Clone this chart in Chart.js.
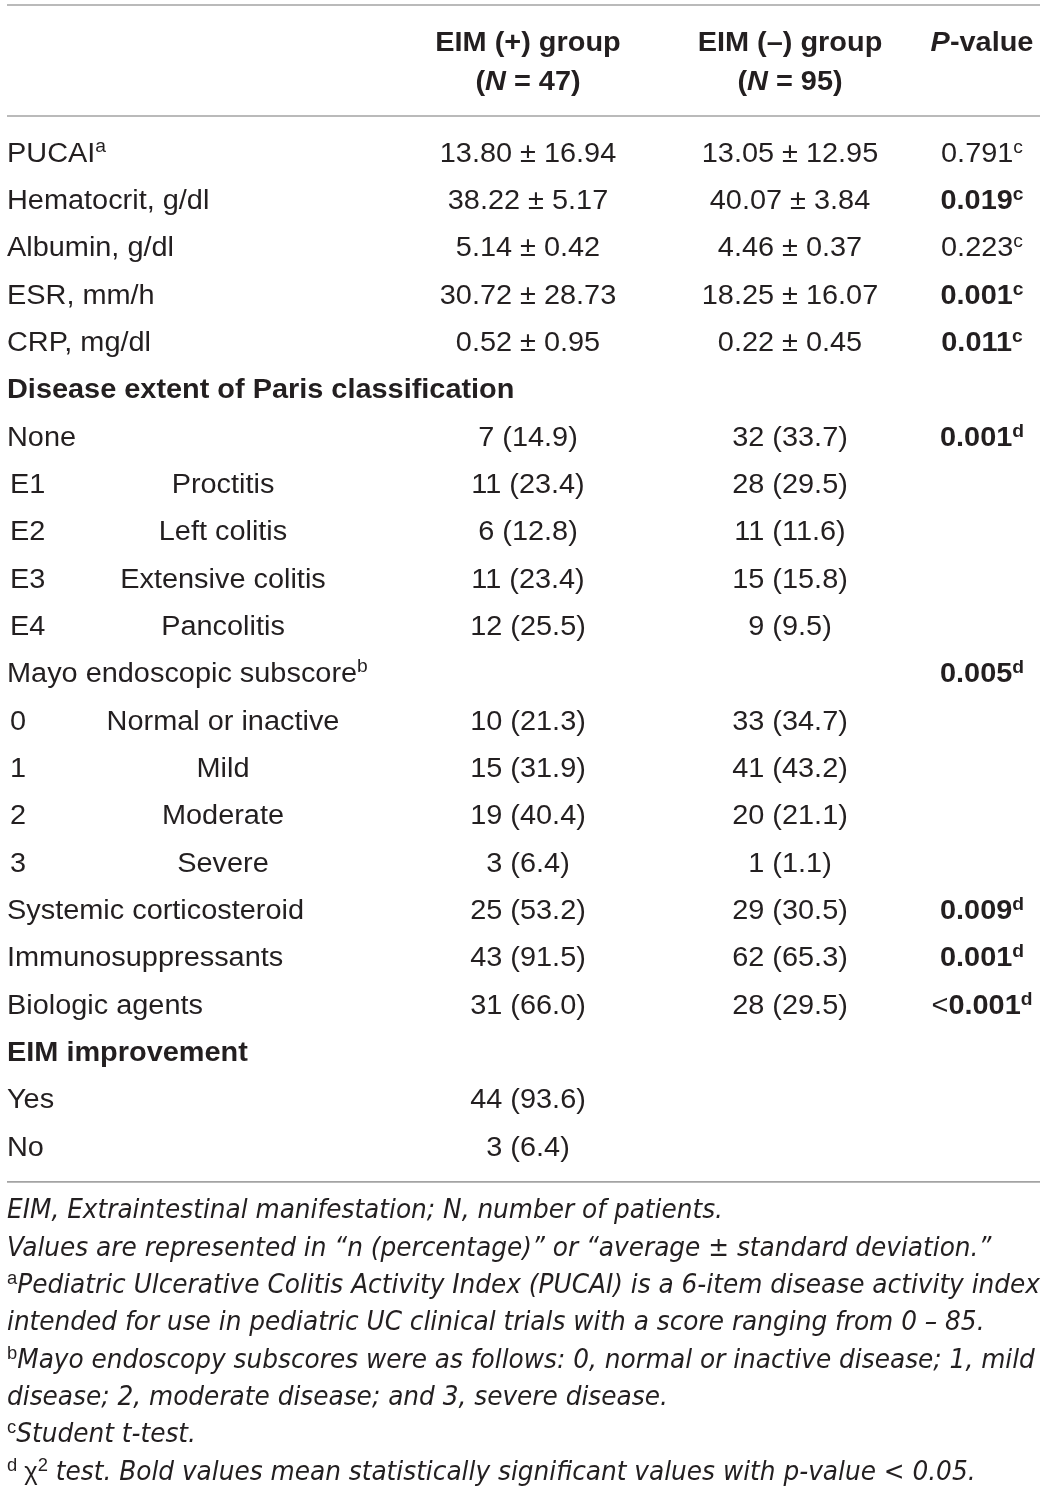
<!DOCTYPE html>
<html>
<head>
<meta charset="utf-8">
<script src="https://cdn.jsdelivr.net/npm/chart.js@4.4.1/dist/chart.umd.min.js"></script>
<style>
  html, body { margin: 0; padding: 0; background: #fff; }
  #wrap { position: relative; width: 1045px; height: 1491px; }
</style>
</head>
<body>
<div id="wrap"><canvas id="table-chart"></canvas></div>
<script>
// Table content
const rowLabels = ['PUCAI', 'Hematocrit, g/dl', 'Albumin, g/dl', 'ESR, mm/h', 'CRP, mg/dl',
  'Disease extent of Paris classification', 'None', 'E1', 'E2', 'E3', 'E4',
  'Mayo endoscopic subscore', '0', '1', '2', '3',
  'Systemic corticosteroid', 'Immunosuppressants', 'Biologic agents',
  'EIM improvement', 'Yes', 'No'];
const rowLabelNotes = ['a', '', '', '', '', '', '', '', '', '', '', 'b', '', '', '', '', '', '', '', '', '', ''];
const sectionRows = ['Disease extent of Paris classification', 'EIM improvement'];
const subLabels = ['', '', '', '', '', '', '', 'Proctitis', 'Left colitis', 'Extensive colitis', 'Pancolitis',
  '', 'Normal or inactive', 'Mild', 'Moderate', 'Severe', '', '', '', '', '', ''];
const eimPlus = ['13.80 ± 16.94', '38.22 ± 5.17', '5.14 ± 0.42', '30.72 ± 28.73', '0.52 ± 0.95', '',
  '7 (14.9)', '11 (23.4)', '6 (12.8)', '11 (23.4)', '12 (25.5)', '',
  '10 (21.3)', '15 (31.9)', '19 (40.4)', '3 (6.4)', '25 (53.2)', '43 (91.5)', '31 (66.0)', '',
  '44 (93.6)', '3 (6.4)'];
const eimMinus = ['13.05 ± 12.95', '40.07 ± 3.84', '4.46 ± 0.37', '18.25 ± 16.07', '0.22 ± 0.45', '',
  '32 (33.7)', '28 (29.5)', '11 (11.6)', '15 (15.8)', '9 (9.5)', '',
  '33 (34.7)', '41 (43.2)', '20 (21.1)', '1 (1.1)', '29 (30.5)', '62 (65.3)', '28 (29.5)', '',
  '', ''];
const pValues = ['0.791', '0.019', '0.223', '0.001', '0.011', '', '0.001', '', '', '', '', '0.005',
  '', '', '', '', '0.009', '0.001', '<0.001', '', '', ''];
const pTests = ['c', 'c', 'c', 'c', 'c', '', 'd', '', '', '', '', 'd', '', '', '', '', 'd', 'd', 'd', '', '', ''];

const headerGroups = ['EIM (+) group', 'EIM (–) group'];
const headerCounts = [47, 95];

const footnotes = [
  [{ t: 'EIM, Extraintestinal manifestation; N, number of patients.' }],
  [{ t: 'Values are represented in “n (percentage)” or “average ± standard deviation.”' }],
  [{ t: 'a', sup: true }, { t: 'Pediatric Ulcerative Colitis Activity Index (PUCAI) is a 6-item disease activity index' }],
  [{ t: 'intended for use in pediatric UC clinical trials with a score ranging from 0 – 85.' }],
  [{ t: 'b', sup: true }, { t: 'Mayo endoscopy subscores were as follows: 0, normal or inactive disease; 1, mild' }],
  [{ t: 'disease; 2, moderate disease; and 3, severe disease.' }],
  [{ t: 'c', sup: true }, { t: 'Student t-test.' }],
  [{ t: 'd', sup: true }, { t: ' χ', up: true }, { t: '2', sup: true }, { t: ' test. Bold values mean statistically significant values with p-value < 0.05.' }]
];

// Layout (x in page units, y in row units)
const COL = { label: 7, code: 10, sub: 223, plus: 528, minus: 790, p: 982 };
const ROW_PITCH = 47.33;
const FIRST_ROW_PX = 152;
const HEADER_ROWS = [-2.33, -1.52];
const RULES = [-3.105, -0.76, 21.76];
const FOOT_START = 22.33;
const FOOT_PITCH = 0.788;
const FOOT_WIDTH = 1033;

const FAMILY = "'Liberation Sans', Arial, sans-serif";
const NARROW = "'Liberation Sans Narrow', 'DejaVu Sans Condensed', sans-serif";
const F = {
  body: '27px ' + FAMILY,
  bold: 'bold 27px ' + FAMILY,
  boldItalic: 'italic bold 27px ' + FAMILY,
  sup: '18px ' + FAMILY,
  supBold: 'bold 18px ' + FAMILY,
  foot: 'italic 27px ' + NARROW,
  footUp: '25px ' + FAMILY
};
const BODY_SX = 1.07;
const TEXT_COLOR = '#231f20';
const RULE_COLOR = '#a3a3a3';

function isSignificant(p) {
  return parseFloat(p.replace('<', '')) < 0.05;
}

// Build the text cells as points on the chart scales
const labelCells = rowLabels.map((label, i) => {
  const bold = sectionRows.includes(label);
  const runs = [{ t: label, f: bold ? F.bold : F.body }];
  if (rowLabelNotes[i]) runs.push({ t: rowLabelNotes[i], f: F.sup, rise: 10 });
  return { x: subLabels[i] ? COL.code : COL.label, y: i, runs: runs };
});
const subCells = subLabels.map((s, i) => ({ x: COL.sub, y: i, runs: [{ t: s, f: F.body }] }))
  .filter(c => c.runs[0].t);
const plusCells = eimPlus.map((s, i) => ({ x: COL.plus, y: i, runs: [{ t: s, f: F.body }] }))
  .filter(c => c.runs[0].t);
const minusCells = eimMinus.map((s, i) => ({ x: COL.minus, y: i, runs: [{ t: s, f: F.body }] }))
  .filter(c => c.runs[0].t);
const pCells = pValues.map((p, i) => {
  const b = isSignificant(p);
  const runs = [];
  if (p.startsWith('<')) {
    runs.push({ t: '<', f: F.body });
    runs.push({ t: p.slice(1), f: F.bold });
  } else {
    runs.push({ t: p, f: b ? F.bold : F.body });
  }
  runs.push({ t: pTests[i], f: b ? F.supBold : F.sup, rise: 9 });
  return { x: COL.p, y: i, runs: runs };
}).filter((c, i) => pValues[i]);

const headerCells = [];
headerGroups.forEach((g, i) => {
  const x = i === 0 ? COL.plus : COL.minus;
  headerCells.push({ x: x, y: HEADER_ROWS[0], runs: [{ t: g, f: F.bold }] });
  headerCells.push({ x: x, y: HEADER_ROWS[1], runs: [
    { t: '(', f: F.bold }, { t: 'N', f: F.boldItalic }, { t: ' = ' + headerCounts[i] + ')', f: F.bold }] });
});
headerCells.push({ x: COL.p, y: HEADER_ROWS[0], runs: [{ t: 'P', f: F.boldItalic }, { t: '-value', f: F.bold }] });

const footCells = footnotes.map((line, k) => ({
  x: COL.label,
  y: FOOT_START + k * FOOT_PITCH,
  runs: line.map(r => ({ t: r.t, f: r.sup ? F.sup : (r.up ? F.footUp : F.foot), rise: r.sup ? 9 : 0 }))
}));

function textSet(cells, align, sx) {
  return { type: 'scatter', data: cells, pointRadius: 0, align: align, sx: sx, isText: true };
}
function ruleSet(y) {
  return {
    type: 'line', data: [{ x: COL.label, y: y }, { x: 1040, y: y }],
    borderColor: RULE_COLOR, borderWidth: 1.6, pointRadius: 0, fill: false
  };
}

function measureRuns(ctx, runs) {
  let total = 0;
  runs.forEach(r => { ctx.font = r.f; r.w = ctx.measureText(r.t).width; total += r.w; });
  return total;
}

function drawRuns(ctx, runs, x, y, align, sx) {
  const total = measureRuns(ctx, runs) * sx;
  const start = align === 'center' ? x - total / 2 : x;
  ctx.save();
  ctx.translate(start, y + 9.6);
  ctx.scale(sx, 1);
  let cx = 0;
  runs.forEach(r => {
    ctx.font = r.f;
    ctx.fillText(r.t, cx, -(r.rise || 0));
    cx += r.w;
  });
  ctx.restore();
}

// Draw the text of every cell at its point's pixel position
const tableText = {
  id: 'tableText',
  afterDatasetsDraw(chart) {
    const ctx = chart.ctx;
    ctx.fillStyle = TEXT_COLOR;
    ctx.textBaseline = 'alphabetic';
    ctx.textAlign = 'left';
    // footnote lines share one squeeze so the widest one fills the table width
    const footSx = FOOT_WIDTH / measureRuns(ctx, footCells[2].runs);
    chart.data.datasets.forEach((ds, di) => {
      if (!ds.isText) return;
      const meta = chart.getDatasetMeta(di);
      meta.data.forEach((pt, i) => {
        const sx = ds.sx === 'foot' ? footSx : ds.sx;
        drawRuns(ctx, ds.data[i].runs, pt.x, pt.y, ds.align, sx);
      });
    });
  }
};

const yMin = -FIRST_ROW_PX / ROW_PITCH;
const yMax = yMin + 1491 / ROW_PITCH;

new Chart(document.getElementById('table-chart').getContext('2d'), {
  data: {
    datasets: [
      ...RULES.map(ruleSet),
      textSet(headerCells, 'center', BODY_SX),
      textSet(labelCells, 'left', BODY_SX),
      textSet(subCells, 'center', BODY_SX),
      textSet(plusCells, 'center', BODY_SX),
      textSet(minusCells, 'center', BODY_SX),
      textSet(pCells, 'center', BODY_SX),
      textSet(footCells, 'left', 'foot')
    ]
  },
  options: {
    responsive: true,
    maintainAspectRatio: false,
    animation: false,
    events: [],
    layout: { padding: 0 },
    scales: {
      x: { type: 'linear', min: 0, max: 1045, display: false },
      y: { type: 'linear', min: yMin, max: yMax, reverse: true, display: false }
    },
    plugins: { legend: { display: false }, tooltip: { enabled: false } }
  },
  plugins: [tableText]
});
</script>
</body>
</html>
